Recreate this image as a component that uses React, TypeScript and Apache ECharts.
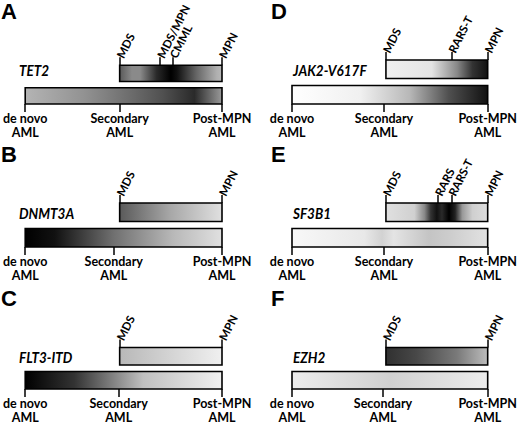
import { useEffect, useRef } from 'react';
import * as echarts from 'echarts';

const panelLetters = ['A', 'B', 'C', 'D', 'E', 'F'];
const geneNames = ['TET2', 'DNMT3A', 'FLT3-ITD', 'JAK2-V617F', 'SF3B1', 'EZH2'];

// lower bar: de novo (0) -> Secondary -> Post-MPN (100)
const amlTickLabels = ['de novo\nAML', 'Secondary\nAML', 'Post-MPN\nAML'];
const secondaryPos = [48, 45, 47.5, 47, 47, 46.5];

// upper bar: MDS -> MPN
const mdsSpan = [48, 100];
const upperTickPos = [
  [48, 68.6, 75, 100],
  [48, 100],
  [48, 100],
  [48, 81.5, 100],
  [48, 74.6, 81.5, 100],
  [48, 100]
];
const upperTickLabels = [
  ['MDS', 'MDS/MPN', 'CMML', 'MPN'],
  ['MDS', 'MPN'],
  ['MDS', 'MPN'],
  ['MDS', 'RARS-T', 'MPN'],
  ['MDS', 'RARS', 'RARS-T', 'MPN'],
  ['MDS', 'MPN']
];

// mutation frequency shading, [offset along bar, grey]
const amlShades: [number, string][][] = [
  [[0, '#b4b4b4'], [0.3, '#929292'], [0.55, '#6a6a6a'], [0.7, '#505050'], [0.86, '#2a2a2a'], [1, '#9a9a9a']],
  [[0, '#000000'], [0.15, '#111111'], [0.45, '#707070'], [0.75, '#b8b8b8'], [1, '#e0e0e0']],
  [[0, '#000000'], [0.25, '#333333'], [0.6, '#c0c0c0'], [1, '#f0f0f0']],
  [[0, '#ffffff'], [0.35, '#f0f0f0'], [0.6, '#b8b8b8'], [0.8, '#505050'], [1, '#111111']],
  [[0, '#f8f8f8'], [0.37, '#e8e8e8'], [0.46, '#d2d2d2'], [0.52, '#e4e4e4'], [0.7, '#c4c4c4'], [0.8, '#cccccc'], [1, '#e2e2e2']],
  [[0, '#ececec'], [0.5, '#d0d0d0'], [1, '#ececec']]
];
const mdsShades: [number, string][][] = [
  [[0, '#5a5a5a'], [0.12, '#8a8a8a'], [0.2, '#8a8a8a'], [0.36, '#2a2a2a'], [0.5, '#000000'], [0.56, '#101010'], [0.75, '#666666'], [0.95, '#b0b0b0'], [1, '#b8b8b8']],
  [[0, '#5a5a5a'], [0.5, '#a8a8a8'], [1, '#e0e0e0']],
  [[0, '#b8b8b8'], [1, '#f0f0f0']],
  [[0, '#f0f0f0'], [0.45, '#e4e4e4'], [0.7, '#888888'], [0.85, '#333333'], [1, '#111111']],
  [[0, '#e0e0e0'], [0.28, '#d0d0d0'], [0.38, '#888888'], [0.44, '#333333'], [0.5, '#111111'], [0.55, '#2a2a2a'], [0.62, '#000000'], [0.68, '#222222'], [0.75, '#999999'], [0.85, '#cfcfcf'], [1, '#dddddd']],
  [[0, '#303030'], [0.3, '#484848'], [0.7, '#7a7a7a'], [1, '#bcbcbc']]
];

const FONT = 'Lato, "Liberation Sans", sans-serif';
const colLeft = [18, 292];
const colWidth = [204, 205];
const rowTop = [60, 203, 347.5];
const gridHeight = 44;

function buildOption(): echarts.EChartsOption {
  const grid: any[] = [];
  const xAxis: any[] = [];
  const yAxis: any[] = [];
  const series: any[] = [];
  const graphic: any[] = [];

  panelLetters.forEach((letter, i) => {
    const col = Math.floor(i / 3);
    const row = i % 3;
    const left = colLeft[col];
    const top = rowTop[row];

    grid.push({ left, top, width: colWidth[col], height: gridHeight });

    const lowerTicks = [0, secondaryPos[i], 100];
    xAxis.push({
      gridIndex: i,
      type: 'value',
      position: 'bottom',
      min: 0,
      max: 100,
      axisLine: { show: false },
      splitLine: { show: false },
      axisTick: { show: true, customValues: lowerTicks, length: 8, lineStyle: { color: '#000', width: 1.5 } },
      axisLabel: {
        customValues: lowerTicks,
        formatter: (v: number) => amlTickLabels[lowerTicks.indexOf(v)] ?? '',
        color: '#000',
        fontFamily: FONT,
        fontWeight: 'bold',
        fontSize: 12.5,
        lineHeight: 14.5,
        margin: 7
      }
    });

    const upperTicks = upperTickPos[i];
    xAxis.push({
      gridIndex: i,
      type: 'value',
      position: 'top',
      min: 0,
      max: 100,
      axisLine: { show: false },
      splitLine: { show: false },
      axisTick: { show: true, customValues: upperTicks, length: 8, lineStyle: { color: '#000', width: 1.5 } },
      axisLabel: {
        customValues: upperTicks,
        formatter: (v: number) => upperTickLabels[i][upperTicks.indexOf(v)] ?? '',
        rotate: -63,
        align: 'left',
        verticalAlign: 'middle',
        color: '#000',
        fontFamily: FONT,
        fontWeight: 'bold',
        fontSize: 11.5,
        margin: 8
      }
    });

    yAxis.push({ gridIndex: i, type: 'category', data: ['AML', 'MDS'], show: false });

    const shades = [amlShades[i], mdsShades[i]];
    series.push({
      type: 'custom',
      xAxisIndex: 2 * i,
      yAxisIndex: i,
      encode: { x: [0, 1], y: 2 },
      data: [
        [0, 100, 0],
        [mdsSpan[0], mdsSpan[1], 1]
      ],
      renderItem: (params: any, api: any) => {
        const r = api.value(2);
        const p0 = api.coord([api.value(0), r]);
        const p1 = api.coord([api.value(1), r]);
        const band = api.size([0, 1])[1];
        const h = band * 0.84;
        const y = r === 0 ? p0[1] + band / 2 - h : p0[1] - band / 2;
        const stops = shades[params.dataIndex].map(([offset, color]) => ({ offset, color }));
        return {
          type: 'rect',
          shape: { x: p0[0], y, width: p1[0] - p0[0], height: h },
          style: {
            fill: new echarts.graphic.LinearGradient(0, 0, 1, 0, stops),
            stroke: '#000',
            lineWidth: 1.6
          }
        };
      }
    });

    graphic.push({
      type: 'text',
      x: col === 0 ? 1 : 271,
      y: top - 60,
      style: {
        text: letter,
        font: '900 22px "Liberation Sans", Arial, sans-serif',
        fill: '#000'
      }
    });
    graphic.push({
      type: 'text',
      x: left + 1,
      y: top + 10,
      scaleX: 0.9,
      style: {
        text: geneNames[i],
        verticalAlign: 'middle',
        font: `italic bold 15px ${FONT}`,
        fill: '#000'
      }
    });
  });

  return { animation: false, grid, xAxis, yAxis, series, graphic };
}

export default function App() {
  const chartRef = useRef<HTMLDivElement>(null);

  useEffect(() => {
    if (!chartRef.current) return;
    const chart = echarts.init(chartRef.current, null, { renderer: 'svg' });
    chart.setOption(buildOption());
    return () => {
      chart.dispose();
    };
  }, []);

  return (
    <div
      ref={chartRef}
      style={{ position: 'absolute', left: 0, top: 0, width: 520, height: 425, background: '#fff' }}
    />
  );
}
